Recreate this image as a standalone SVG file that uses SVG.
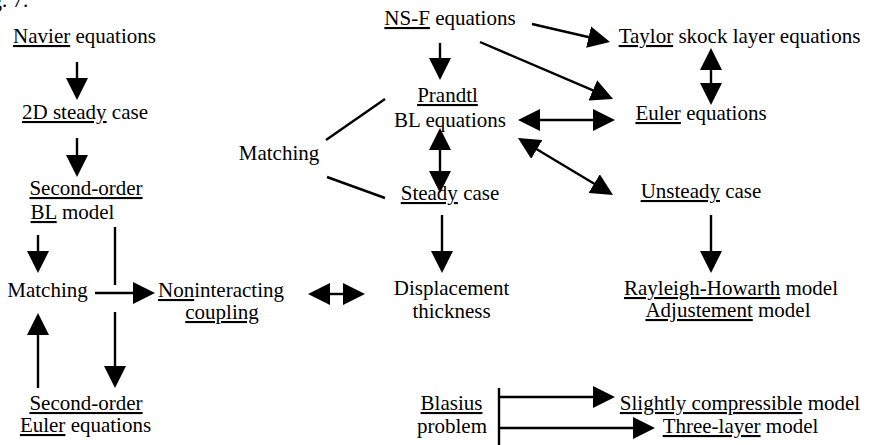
<svg xmlns="http://www.w3.org/2000/svg" width="870" height="445" viewBox="0 0 870 445">
  <defs>
    <marker id="ah" viewBox="0 0 22 22" refX="4" refY="11" markerWidth="22" markerHeight="22" markerUnits="userSpaceOnUse" orient="auto-start-reverse">
      <path d="M0,0 L22,11 L0,22 z" fill="#000"/>
    </marker>
  </defs>
  <style>
    .t { font-family: 'Liberation Serif', serif; font-size: 21px; fill: #000; text-anchor: middle; }
    .u { text-decoration: underline; }
    .ln { stroke: #000; stroke-width: 2.4; fill: none; }
    .a { marker-end: url(#ah); }
    .aa { marker-start: url(#ah); marker-end: url(#ah); }
  </style>
  <rect width="870" height="445" fill="#fff"/>

  <!-- figure number, cut at the top edge -->
  <text class="t" font-family="Liberation Serif" x="-26" y="7" style="text-anchor:start">Fig. 7.</text>

  <!-- left column -->
  <g id="navier"><text class="t" font-family="Liberation Serif" x="84.5" y="43"><tspan class="u">Navier</tspan> equations</text></g>
  <g id="steady2d"><text class="t" font-family="Liberation Serif" x="85" y="119"><tspan class="u">2D steady</tspan> case</text></g>
  <g id="bl2"><text class="t" font-family="Liberation Serif" x="86" y="195"><tspan class="u">Second-order</tspan></text><text class="t" font-family="Liberation Serif" x="72.5" y="219"><tspan class="u">BL</tspan> model</text></g>
  <g id="matchL"><text class="t" font-family="Liberation Serif" x="47.5" y="297">Matching</text></g>
  <g id="nonint"><text class="t" font-family="Liberation Serif" x="221" y="297"><tspan class="u">Non</tspan>interacting</text><text class="t u" font-family="Liberation Serif" x="222" y="319">coupling</text></g>
  <g id="euler2"><text class="t u" font-family="Liberation Serif" x="86" y="410">Second-order</text><text class="t" font-family="Liberation Serif" x="85.5" y="432"><tspan class="u">Euler</tspan> equations</text></g>

  <!-- centre column -->
  <g id="nsf"><text class="t" font-family="Liberation Serif" x="450" y="25"><tspan class="u">NS-F</tspan> equations</text></g>
  <g id="prandtl"><text class="t u" font-family="Liberation Serif" x="447.5" y="102">Prandtl</text><text class="t" font-family="Liberation Serif" x="450" y="127">BL equations</text></g>
  <g id="matchC"><text class="t" font-family="Liberation Serif" x="279" y="160">Matching</text></g>
  <g id="steady"><text class="t" font-family="Liberation Serif" x="450" y="200"><tspan class="u">Steady</tspan> case</text></g>
  <g id="disp"><text class="t" font-family="Liberation Serif" x="451.5" y="295">Displacement</text><text class="t" font-family="Liberation Serif" x="451.5" y="318">thickness</text></g>
  <g id="blasius"><text class="t u" font-family="Liberation Serif" x="451.5" y="410">Blasius</text><text class="t" font-family="Liberation Serif" x="452" y="433">problem</text></g>

  <!-- right column -->
  <g id="taylor"><text class="t" font-family="Liberation Serif" x="739.5" y="43"><tspan class="u">Taylor</tspan> skock layer equations</text></g>
  <g id="euler"><text class="t" font-family="Liberation Serif" x="701" y="120"><tspan class="u">Euler</tspan> equations</text></g>
  <g id="unsteady"><text class="t" font-family="Liberation Serif" x="701" y="198"><tspan class="u">Unsteady</tspan> case</text></g>
  <g id="rayleigh"><text class="t" font-family="Liberation Serif" x="731" y="295"><tspan class="u">Rayleigh-Howarth</tspan> model</text><text class="t" font-family="Liberation Serif" x="728" y="317"><tspan class="u">Adjustement</tspan> model</text></g>
  <g id="slight"><text class="t" font-family="Liberation Serif" x="740" y="410"><tspan class="u">Slightly compressible</tspan> model</text></g>
  <g id="three"><text class="t" font-family="Liberation Serif" x="740.5" y="433"><tspan class="u">Three-layer</tspan> model</text></g>

  <g id="connectors">
    <!-- left column -->
    <path class="ln a" d="M77,62 V82"/>
    <path class="ln a" d="M77,138 V159"/>
    <path class="ln a" d="M38,235 V255"/>
    <path class="ln" d="M115,227 V285"/>
    <path class="ln a" d="M95,293 H137"/>
    <path class="ln a" d="M115,312 V370"/>
    <path class="ln a" d="M38,388 V331"/>
    <!-- centre column -->
    <path class="ln a" d="M440,43 V62"/>
    <path class="ln" d="M326,140 L385,99"/>
    <path class="ln" d="M327,177 L385,198"/>
    <path class="ln aa" d="M440,146 V175"/>
    <path class="ln a" d="M442,215 V255"/>
    <path class="ln aa" d="M326,294 H347"/>
    <path class="ln" d="M499,388 V445"/>
    <path class="ln a" d="M499,397 H597"/>
    <path class="ln a" d="M499,428 H637"/>
    <!-- right column -->
    <path class="ln a" d="M532,24 L592.5,38"/>
    <path class="ln a" d="M480,42 L596.5,91.9"/>
    <path class="ln aa" d="M711,66 V87"/>
    <path class="ln aa" d="M536,120 H597"/>
    <path class="ln aa" d="M533.4,147.3 L597.6,185.7"/>
    <path class="ln a" d="M711,215 V255"/>
  </g>
</svg>
